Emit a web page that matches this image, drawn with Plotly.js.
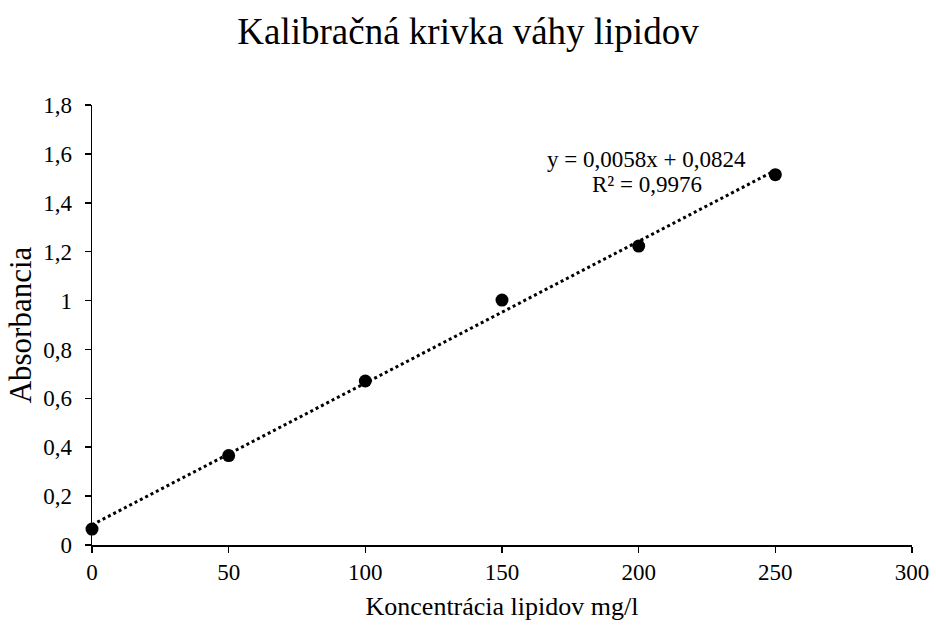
<!DOCTYPE html>
<html>
<head>
<meta charset="utf-8">
<script src="https://cdn.plot.ly/plotly-3.0.1.min.js"></script>
<style>html,body{margin:0;padding:0;background:#fff;}#chart{width:936px;height:628px;}</style>
</head>
<body>
<div id="chart"></div>
<script>
const concentration = [0, 50, 100, 150, 200, 250];
const absorbance = [0.065, 0.366, 0.671, 1.002, 1.223, 1.515];
const trendX = [0, 250];
const trendY = [0.0824, 1.5324];
const equationLines = ["y = 0,0058x + 0,0824", "R² = 0,9976"];
const equationYs = [1.577, 1.473];
const xTicks = [0, 50, 100, 150, 200, 250, 300];
const yTicks = [0, 0.2, 0.4, 0.6, 0.8, 1, 1.2, 1.4, 1.6, 1.8];
const yTickLabels = ["0", "0,2", "0,4", "0,6", "0,8", "1", "1,2", "1,4", "1,6", "1,8"];

const font = "'Liberation Serif', 'Times New Roman', serif";

const traces = [
  {
    x: trendX, y: trendY, type: "scatter", mode: "lines",
    line: {color: "#000", width: 3, dash: "dot"},
    hoverinfo: "skip", showlegend: false, cliponaxis: false
  },
  {
    x: concentration, y: absorbance, type: "scatter", mode: "markers",
    marker: {color: "#000", size: 13},
    showlegend: false, cliponaxis: false
  }
];

const layout = {
  width: 936, height: 628,
  paper_bgcolor: "#fff", plot_bgcolor: "#fff",
  margin: {l: 92, r: 24, t: 105, b: 83},
  font: {family: font, color: "#000", size: 23},
  title: {text: "Kalibračná krivka váhy lipidov", font: {family: font, size: 37, color: "#000"}, x: 0.5, xanchor: "center", y: 0.95, yanchor: "middle"},
  xaxis: {
    range: [0, 300], tickvals: xTicks, showgrid: false, zeroline: false,
    showline: true, linecolor: "#000", linewidth: 1.5,
    ticks: "outside", ticklen: 6, tickwidth: 1.5, tickcolor: "#000",
    tickfont: {family: font, size: 23, color: "#000"},
    title: {text: "Koncentrácia lipidov mg/l", font: {family: font, size: 26, color: "#000"}, standoff: 12}
  },
  yaxis: {
    range: [0, 1.8], tickvals: yTicks, ticktext: yTickLabels, showgrid: false, zeroline: false,
    showline: true, linecolor: "#000", linewidth: 1.5,
    ticks: "outside", ticklen: 6, tickwidth: 1.5, tickcolor: "#000",
    ticklabelstandoff: 8,
    tickfont: {family: font, size: 23, color: "#000"},
    title: {text: "Absorbancia", font: {family: font, size: 31, color: "#000"}, standoff: 2}
  },
  annotations: equationLines.map((t, i) => ({
    x: 203, y: equationYs[i], xref: "x", yref: "y", text: t, showarrow: false,
    font: {family: font, size: 23, color: "#000"}, align: "center", xanchor: "center", yanchor: "middle"
  }))
};
Plotly.newPlot("chart", traces, layout, {displayModeBar: false, staticPlot: true});
</script>
</body>
</html>
